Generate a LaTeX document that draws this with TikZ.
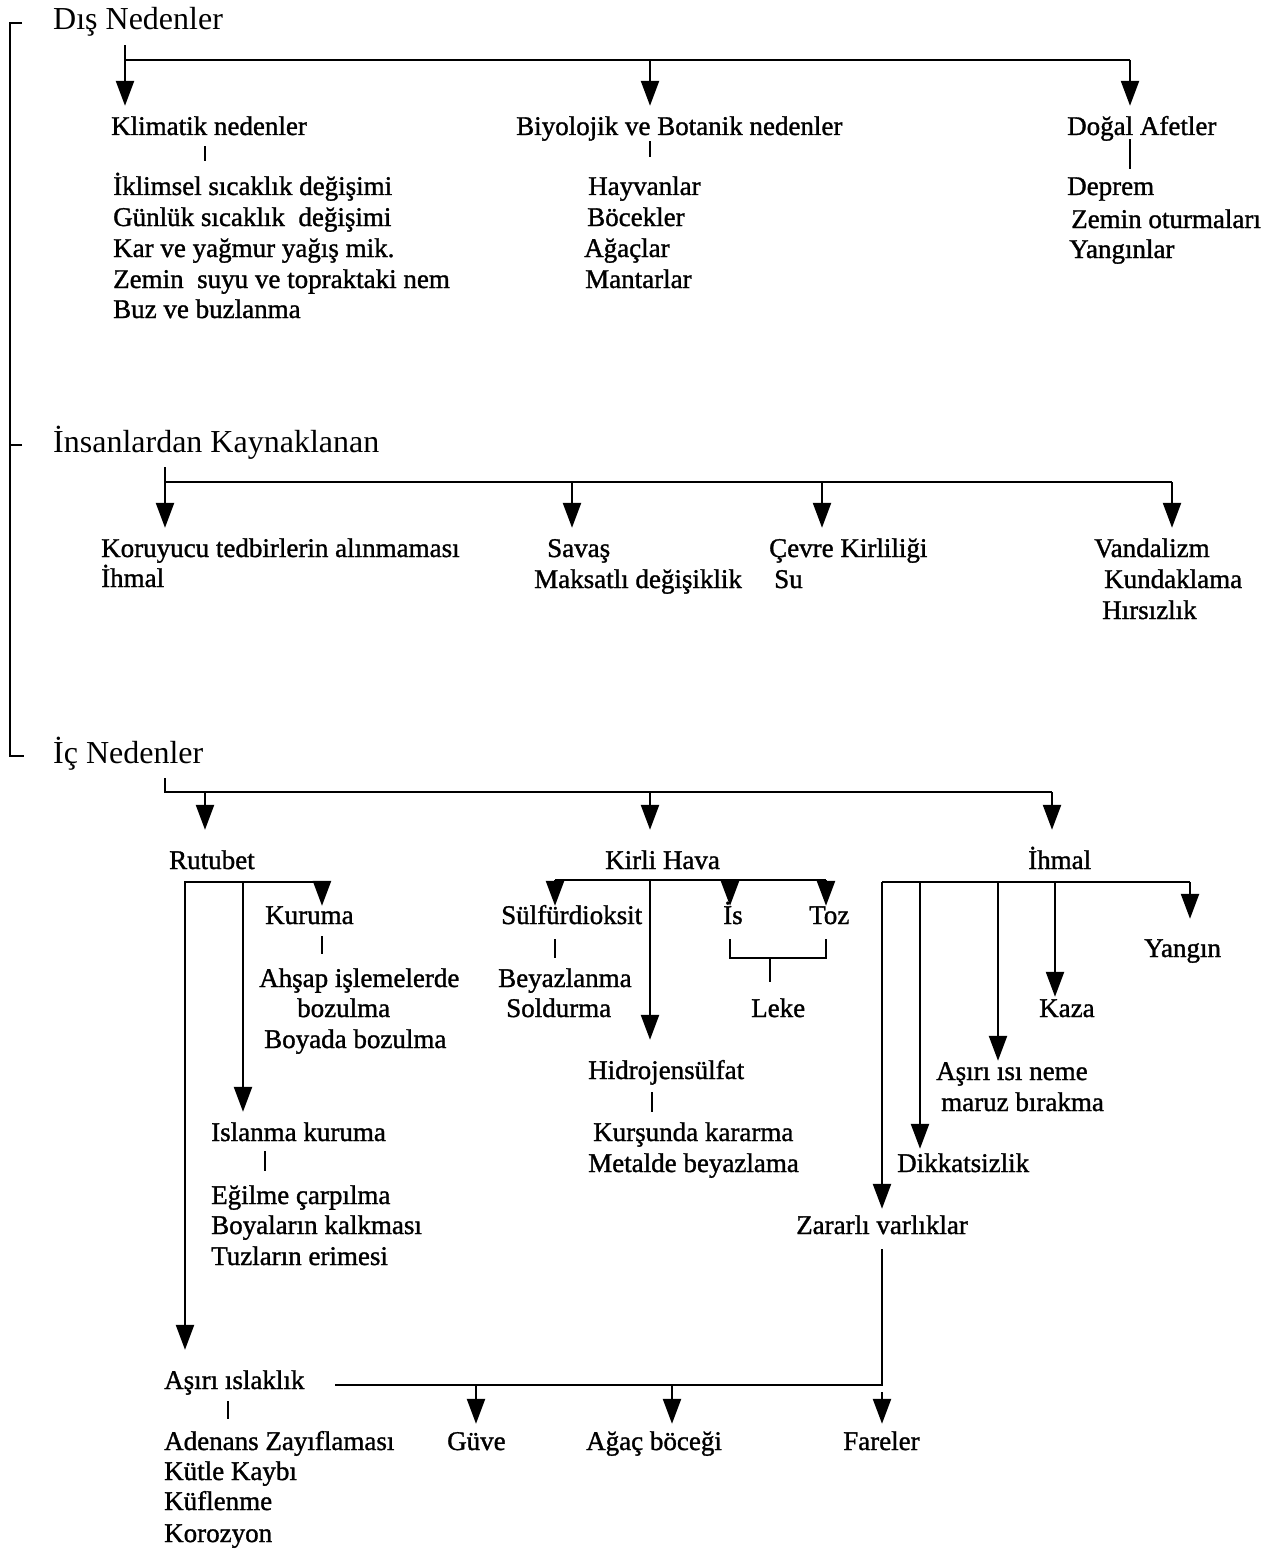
\documentclass[tikz,border=0pt]{standalone}
\usepackage{fontspec}
\setmainfont{Liberation Serif}
\newfontfamily\scanfont{Liberation Serif}[BoldFont={Liberation Serif},BoldFeatures={FakeBold=1.2}]
\usepackage{tikz}
\usetikzlibrary{arrows.meta}

\begin{document}
\begin{tikzpicture}[x=1pt,y=-1pt,line width=2.4pt,
		txt/.style={anchor=base west,inner xsep=0pt,inner ysep=8pt,text height=20pt,text depth=6pt,font=\scanfont\bfseries\fontsize{27}{31}\selectfont},
		hd/.style={txt,font=\fontsize{32}{36}\selectfont},
		arr/.style={-{Triangle[length=25pt,width=18pt]}}]
			\useasboundingbox (0,0) rectangle (1274,1549);
			
			% ana basliklar
			\node[hd] (DN) at (52,30) {Dış Nedenler};
			\node[hd] (IK) at (52,452) {İnsanlardan Kaynaklanan};
			\node[hd] (IC) at (52,763) {İç Nedenler};
			\draw ([xshift=-30pt]DN.west) -- ([xshift=-42pt]DN.west) -- ([xshift=-42pt]IC.west) -- ([xshift=-28pt]IC.west);
			\draw ([xshift=-30pt]IK.west) -- ([xshift=-42pt]IK.west);
			
			% dis nedenler
			\node[txt] (KL) at (110,135) {Klimatik nedenler};
			\node[txt] (BB) at (515,135) {Biyolojik ve Botanik nedenler};
			\node[txt] (DA) at (1066,135) {Doğal Afetler};
			\coordinate (D1) at (125,60);
			\coordinate (D2) at (650,60);
			\coordinate (D3) at (1130,60);
			\coordinate (T1) at (205,0);
			\draw[arr] (DN.south -| D1) -- (KL.north -| D1);
			\draw (D1) -- (D3);
			\draw[arr] (D2) -- (BB.north -| D2);
			\draw[arr] (D3) -- (DA.north -| D3);
			
			\node[txt] (K1) at (112,195) {İklimsel sıcaklık değişimi};
			\node[txt] (K2) at (112,226) {Günlük sıcaklık~ değişimi};
			\node[txt] (K3) at (112,257) {Kar ve yağmur yağış mik.};
			\node[txt] (K4) at (112,288) {Zemin~ suyu ve topraktaki nem};
			\node[txt] (K5) at (112,318) {Buz ve buzlanma};
			\draw ([yshift=4pt]KL.south -| T1) -- ([yshift=5pt]K1.north -| T1);
			
			\node[txt] (B1) at (587,195) {Hayvanlar};
			\node[txt] (B2) at (586,226) {Böcekler};
			\node[txt] (B3) at (583,257) {Ağaçlar};
			\node[txt] (B4) at (584,288) {Mantarlar};
			\draw ([yshift=9pt]BB.south -| D2) -- ([yshift=9pt]B1.north -| D2);
			
			\node[txt] (A1) at (1066,195) {Deprem};
			\node[txt] (A2) at (1070,228) {Zemin oturmaları};
			\node[txt] (A3) at (1068,258) {Yangınlar};
			\draw ([yshift=11pt]DA.south -| D3) -- ([yshift=-3pt]A1.north -| D3);
			
			% insanlardan kaynaklanan
			\node[txt] (KO) at (100,557) {Koruyucu tedbirlerin alınmaması};
			\node[txt] (IH1) at (100,587) {İhmal};
			\node[txt] (SV) at (546,557) {Savaş};
			\node[txt] (MD) at (533,588) {Maksatlı değişiklik};
			\node[txt] (CK) at (768,557) {Çevre Kirliliği};
			\node[txt] (SU) at (773,588) {Su};
			\node[txt] (VA) at (1093,557) {Vandalizm};
			\node[txt] (KU) at (1103,588) {Kundaklama};
			\node[txt] (HI) at (1101,619) {Hırsızlık};
			\coordinate (I1) at (165,482);
			\coordinate (I2) at (572,482);
			\coordinate (I3) at (822,482);
			\coordinate (I4) at (1172,482);
			\draw[arr] (IK.south -| I1) -- (KO.north -| I1);
			\draw (I1) -- (I4);
			\draw[arr] (I2) -- (SV.north -| I2);
			\draw[arr] (I3) -- (CK.north -| I3);
			\draw[arr] (I4) -- (VA.north -| I4);
			
			% ic nedenler
			\node[txt] (RU) at (168,869) {Rutubet};
			\node[txt] (KH) at (604,869) {Kirli Hava};
			\node[txt] (IH) at (1027,869) {İhmal};
			\coordinate (C1) at (165,792);
			\coordinate (C2) at (205,792);
			\coordinate (C3) at (650,792);
			\coordinate (C4) at (1052,792);
			\draw (IC.south -| C1) -- (C1) -- (C4);
			\draw[arr] (C2) -- ([yshift=10pt]RU.north -| C2);
			\draw[arr] (C3) -- ([yshift=10pt]KH.north -| C3);
			\draw[arr] (C4) -- ([yshift=10pt]IH.north -| C4);
			
			% rutubet
			\node[txt] (KR) at (264,924) {Kuruma};
			\node[txt] (AH) at (258,987) {Ahşap işlemelerde};
			\node[txt] (BZ) at (296,1017) {bozulma};
			\node[txt] (BY) at (263,1048) {Boyada bozulma};
			\node[txt] (IS) at (210,1141) {Islanma kuruma};
			\node[txt] (EG) at (210,1204) {Eğilme çarpılma};
			\node[txt] (BK) at (210,1234) {Boyaların kalkması};
			\node[txt] (TE) at (210,1265) {Tuzların erimesi};
			\node[txt] (AI) at (163,1389) {Aşırı ıslaklık};
			\node[txt] (AD) at (163,1450) {Adenans Zayıflaması};
			\node[txt] (KK) at (163,1480) {Kütle Kaybı};
			\node[txt] (KF) at (163,1510) {Küflenme};
			\node[txt] (KZ) at (163,1542) {Korozyon};
			\coordinate (R1) at (185,882);
			\coordinate (R2) at (243,882);
			\coordinate (R3) at (322,882);
			\coordinate (T2) at (265,0);
			\coordinate (T3) at (228,0);
			\draw[arr] (R3) -- (R1) -- ([yshift=10pt]AI.north -| R1);
			\draw[arr] (R2) -- (IS.north -| R2);
			\draw[arr] (R3) -- ([yshift=-11pt]KR.north -| R3);
			\draw ([yshift=3pt]KR.south -| R3) -- ([yshift=4pt]AH.north -| R3);
			\draw ([yshift=5pt]IS.south -| T2) -- ([yshift=4pt]EG.north -| T2);
			\draw ([yshift=3pt]AI.south -| T3) -- ([yshift=2pt]AD.north -| T3);
			
			% kirli hava
			\node[txt] (SD) at (500,924) {Sülfürdioksit};
			\node[txt] (BE) at (497,987) {Beyazlanma};
			\node[txt] (SO) at (505,1017) {Soldurma};
			\node[txt] (IS2) at (722,924) {İs};
			\node[txt] (TZ) at (808,924) {Toz};
			\node[txt] (LK) at (750,1017) {Leke};
			\node[txt] (HS) at (587,1079) {Hidrojensülfat};
			\node[txt] (KA) at (592,1141) {Kurşunda kararma};
			\node[txt] (MB) at (587,1172) {Metalde beyazlama};
			\coordinate (H1) at (555,880);
			\coordinate (H2) at (650,880);
			\coordinate (H3) at (730,880);
			\coordinate (H4) at (826,880);
			\coordinate (L1) at (770,958);
			\coordinate (T4) at (652,0);
			\draw (H1) -- (H4);
			\draw[arr] (H1) -- ([yshift=-11pt]SD.north -| H1);
			\draw[arr] (H3) -- ([yshift=-11pt]IS2.north -| H3);
			\draw[arr] (H4) -- ([yshift=-11pt]TZ.north -| H4);
			\draw[arr] (H2) -- ([yshift=10pt]HS.north -| H2);
			\draw (SD.south -| H1) -- (BE.north -| H1);
			\draw (IS2.south -| H3) |- (L1) -| (TZ.south -| H4);
			\draw (L1) -- ([yshift=6pt]LK.north -| L1);
			\draw ([yshift=2pt]HS.south -| T4) -- (KA.north -| T4);
			
			% ihmal
			\node[txt] (YA) at (1143,957) {Yangın};
			\node[txt] (KAZ) at (1038,1017) {Kaza};
			\node[txt] (AS) at (935,1080) {Aşırı ısı neme};
			\node[txt] (MR) at (940,1111) {maruz bırakma};
			\node[txt] (DK) at (896,1172) {Dikkatsizlik};
			\node[txt] (ZV) at (795,1234) {Zararlı varlıklar};
			\coordinate (M1) at (882,882);
			\coordinate (M2) at (920,882);
			\coordinate (M3) at (998,882);
			\coordinate (M4) at (1055,882);
			\coordinate (M5) at (1190,882);
			\draw (M1) -- (M5);
			\draw[arr] (M5) -- ([yshift=9pt]YA.north -| M5);
			\draw[arr] (M4) -- ([yshift=-9pt]KAZ.north -| M4);
			\draw[arr] (M3) -- ([yshift=-10pt]AS.north -| M3);
			\draw[arr] (M2) -- ([yshift=-6pt]DK.north -| M2);
			\draw[arr] (M1) -- ([yshift=-4pt]ZV.north -| M1);
			
			% zararli varliklar
			\node[txt] (GU) at (446,1450) {Güve};
			\node[txt] (AB) at (585,1450) {Ağaç böceği};
			\node[txt] (FA) at (842,1450) {Fareler};
			\coordinate (Z1) at (335,1385);
			\coordinate (Z2) at (882,1385);
			\coordinate (Z3) at (476,1385);
			\coordinate (Z4) at (672,1385);
			\draw (ZV.south -| Z2) -- (Z2) -- (Z1);
			\draw[arr] (Z3) -- ([yshift=-3pt]GU.north -| Z3);
			\draw[arr] (Z4) -- ([yshift=-3pt]AB.north -| Z4);
			\draw[arr,shorten <=7pt] (Z2) -- ([yshift=-3pt]FA.north -| Z2);
		\end{tikzpicture}
\end{document}
